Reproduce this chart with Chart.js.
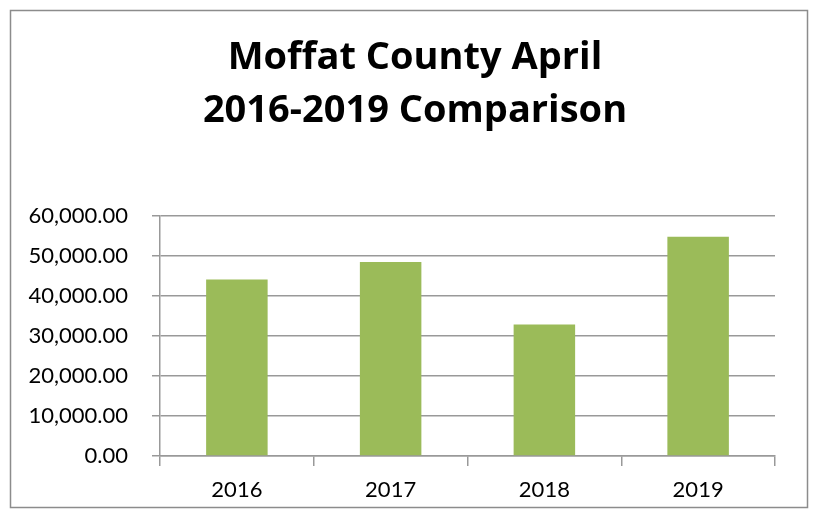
<!DOCTYPE html>
<html>
<head>
<meta charset="utf-8">
<script src="https://cdn.jsdelivr.net/npm/chart.js@4/dist/chart.umd.min.js"></script>
<style>
  html, body { margin: 0; padding: 0; background: #ffffff; }
  #wrap { width: 818px; height: 518px; position: relative; }
</style>
</head>
<body>
<div id="wrap"><canvas id="c" width="818" height="518"></canvas></div>
<script>
const categories = ["2016", "2017", "2018", "2019"];
const values = [44100, 48500, 32900, 54800];
const titleLines = ["Moffat County April", "2016-2019 Comparison"];
const yMin = 0, yMax = 60000, yStep = 10000;

const borderPlugin = {
  id: 'outerBorder',
  beforeDraw(chart) {
    const ctx = chart.ctx;
    ctx.save();
    ctx.fillStyle = '#ffffff';
    ctx.fillRect(0, 0, chart.width, chart.height);
    ctx.strokeStyle = '#8c8c8c';
    ctx.lineWidth = 1.5;
    ctx.strokeRect(10.5, 10.5, 797, 497);
    ctx.restore();
  }
};

const FONT = "Lato, 'Open Sans', sans-serif";
const TITLE_FONT = "'Open Sans', Lato, sans-serif";

new Chart(document.getElementById('c'), {
  type: 'bar',
  data: {
    labels: categories,
    datasets: [{
      data: values,
      backgroundColor: '#9BBB59',
      borderColor: '#9BBB59',
      borderWidth: 0,
      categoryPercentage: 0.4,
      barPercentage: 1.0
    }]
  },
  options: {
    responsive: false,
    animation: false,
    devicePixelRatio: 1,
    layout: { padding: { left: 12, right: 0, top: 0, bottom: 0 } },
    plugins: {
      legend: { display: false },
      tooltip: { enabled: false },
      title: {
        display: true,
        text: titleLines,
        color: '#000000',
        font: { family: TITLE_FONT, size: 38, weight: 'bold', lineHeight: 1.395 },
        padding: { top: 32, bottom: 78 }
      }
    },
    scales: {
      y: {
        min: yMin, max: yMax,
        afterFit(scale) { scale.width = 148; },
        ticks: {
          stepSize: yStep,
          color: '#000000',
          padding: 24,
          font: { family: FONT, size: 22 },
          callback: (v) => Number(v).toLocaleString('en-US', { minimumFractionDigits: 2, maximumFractionDigits: 2 })
        },
        grid: { color: '#999999', lineWidth: 1.5, drawTicks: true, tickLength: 8, tickColor: '#999999' },
        border: { display: true, color: '#999999', width: 1.5 }
      },
      yRight: {
        position: 'right',
        min: yMin, max: yMax,
        afterFit(scale) { scale.width = 43; },
        ticks: { display: false },
        grid: { drawOnChartArea: false, drawTicks: false },
        border: { display: false }
      },
      x: {
        afterFit(scale) { scale.height = 62; },
        ticks: {
          color: '#000000',
          padding: 11,
          font: { family: FONT, size: 22 }
        },
        grid: { display: true, offset: true, drawOnChartArea: false, drawTicks: true, tickLength: 10, color: '#999999', lineWidth: 1.5 },
        border: { display: true, color: '#999999', width: 1.5 }
      }
    }
  },
  plugins: [borderPlugin]
});
</script>
</body>
</html>
